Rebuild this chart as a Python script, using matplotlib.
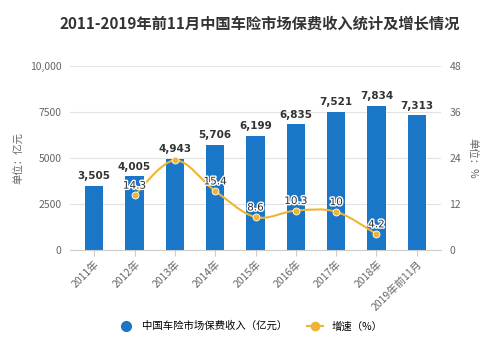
import matplotlib.pyplot as plt
import matplotlib.patheffects as pe
from matplotlib.path import Path
from matplotlib.patches import PathPatch
from matplotlib.lines import Line2D

plt.rcParams['font.family'] = ['Noto Sans CJK SC', 'DejaVu Sans']

# data
years = ['2011年', '2012年', '2013年', '2014年', '2015年', '2016年', '2017年', '2018年', '2019年前11月']
revenue = [3505, 4005, 4943, 5706, 6199, 6835, 7521, 7834, 7313]
growth = [14.3, 23.4, 15.4, 8.6, 10.3, 10, 4.2]
growth_labels = ['14.3', '', '15.4', '8.6', '10.3', '10', '4.2']

bar_color = '#1a76c6'
line_color = '#f0b433'
grid_color = '#e3e3e3'
text_gray = '#666666'

fig = plt.figure(figsize=(5, 3.38), dpi=100)
ax = fig.add_axes([0.14, 0.26, 0.742, 0.545])
ax2 = ax.twinx()

x = list(range(len(years)))
ax.bar(x, revenue, width=0.46, color=bar_color, zorder=2)
for xi, v in zip(x, revenue):
    ax.text(xi, v + 250, f'{v:,}', ha='center', va='bottom', fontsize=7.5,
            fontweight='bold', color='#333333', family='DejaVu Sans')

ax.set_ylim(0, 10000)
ax.set_yticks([0, 2500, 5000, 7500, 10000])
ax.set_yticklabels(['0', '2500', '5000', '7500', '10,000'])
ax.grid(axis='y', color=grid_color, linewidth=0.8, zorder=0)
ax.set_axisbelow(True)
ax.set_xlim(-0.6, len(years) - 0.4)
ax.set_xticks(x)
ax.set_xticklabels(years, rotation=45, ha='right', rotation_mode='anchor', fontsize=7.5, color=text_gray)
ax.tick_params(axis='y', length=0, labelsize=7.5, labelcolor=text_gray, pad=6)
ax.tick_params(axis='x', length=4, color='#cccccc', pad=2)
for s in ['top', 'right', 'left']:
    ax.spines[s].set_visible(False)
ax.spines['bottom'].set_color('#cccccc')
ax.set_ylabel('单位：亿元', fontsize=7.5, color=text_gray, labelpad=4)

# growth line (smooth curve through the points)
gx = x[1:8]
ax2.set_ylim(0, 48)
ax2.set_yticks([0, 12, 24, 36, 48])
verts = [(gx[0], growth[0])]
codes = [Path.MOVETO]
pts = list(zip(gx, growth))
for i in range(len(pts) - 1):
    p0 = pts[i - 1] if i > 0 else pts[i]
    p1 = pts[i]
    p2 = pts[i + 1]
    p3 = pts[i + 2] if i + 2 < len(pts) else pts[i + 1]
    c1 = (p1[0] + (p2[0] - p0[0]) / 6, p1[1] + (p2[1] - p0[1]) / 6)
    c2 = (p2[0] - (p3[0] - p1[0]) / 6, p2[1] - (p3[1] - p1[1]) / 6)
    verts += [c1, c2, p2]
    codes += [Path.CURVE4] * 3
ax2.add_patch(PathPatch(Path(verts, codes), facecolor='none', edgecolor=line_color, lw=1.5, zorder=3))
ax2.plot(gx, growth, 'o', color=line_color, markersize=5, markeredgecolor='white',
         markeredgewidth=0.6, zorder=4)
for xi, g, lab in zip(gx, growth, growth_labels):
    if lab:
        ax2.text(xi, g + 1.2, lab, ha='center', va='bottom', fontsize=7.5, color='#333333',
                 family='DejaVu Sans',
                 path_effects=[pe.withStroke(linewidth=2, foreground='white')], zorder=5)

ax2.tick_params(axis='y', length=0, labelsize=7.5, labelcolor=text_gray, pad=6)
for s in ['top', 'right', 'left', 'bottom']:
    ax2.spines[s].set_visible(False)
ax2.set_ylabel('单位：%', fontsize=7.5, color=text_gray, rotation=270, labelpad=12)

fig.suptitle('2011-2019年前11月中国车险市场保费收入统计及增长情况', x=0.52, y=0.955,
             fontsize=11, fontweight='bold', color='#333333')

handles = [
    Line2D([], [], marker='o', linestyle='none', color=bar_color, markersize=7),
    Line2D([], [], marker='o', color=line_color, markersize=6, lw=1.5),
]
fig.legend(handles, ['中国车险市场保费收入（亿元）', '增速（%）'], loc='center',
           bbox_to_anchor=(0.5, 0.035), ncol=2, frameon=False, fontsize=7.5,
           handlelength=1.6, columnspacing=1.8)

fig.savefig('out.png', dpi=100)
